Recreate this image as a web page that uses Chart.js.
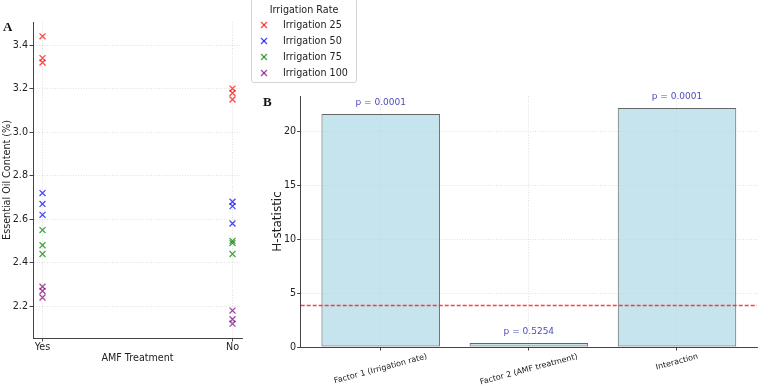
<!DOCTYPE html>
<html><head><meta charset="utf-8">
<script src="https://cdn.jsdelivr.net/npm/chart.js@4/dist/chart.umd.min.js"></script>
<style>
html,body{margin:0;padding:0;background:#fff;width:758px;height:385px;overflow:hidden;font-family:"DejaVu Sans",sans-serif;}
canvas{position:absolute;top:0;}
#cA{left:0;}
#cB{left:255px;}
.panel{position:absolute;font-family:"Liberation Serif",serif;font-weight:bold;font-size:13px;color:#111;line-height:13px;}
#legendBox{position:absolute;left:251px;top:-2px;width:106px;height:85px;border:1px solid #d4d4d4;border-radius:3px;background:rgba(255,255,255,0.8);box-sizing:border-box;}
.lg{position:absolute;font-size:9.6px;line-height:12px;color:#222;white-space:nowrap;}
</style>
</head><body>
<canvas id="cA" width="250" height="385"></canvas>
<canvas id="cB" width="503" height="385"></canvas>
<div class="panel" style="left:3px;top:20px;">A</div>
<div class="panel" style="left:263px;top:95px;">B</div>
<div id="legendBox"></div>
<div id="legendItems"></div>
<script>
// ---------- Panel A data ----------
const amfGroups = ['Yes', 'No'];
const seriesNames = ['Irrigation 25', 'Irrigation 50', 'Irrigation 75', 'Irrigation 100'];
const irr25Yes = [3.44, 3.34, 3.32];
const irr25No  = [3.20, 3.18, 3.15];
const irr50Yes = [2.72, 2.67, 2.62];
const irr50No  = [2.68, 2.66, 2.58];
const irr75Yes = [2.55, 2.48, 2.44];
const irr75No  = [2.50, 2.49, 2.44];
const irr100Yes = [2.29, 2.27, 2.24];
const irr100No  = [2.18, 2.14, 2.12];
const oilTicks = [2.2, 2.4, 2.6, 2.8, 3.0, 3.2, 3.4];

// ---------- Panel B data ----------
const factors = ['Factor 1 (Irrigation rate)', 'Factor 2 (AMF treatment)', 'Interaction'];
const hStat = [21.6, 0.37, 22.16];
const pValues = [0.0001, 0.5254, 0.0001];
const critValue = 3.84;
const hTicks = [0, 5, 10, 15, 20];

const FAM = '"DejaVu Sans", sans-serif';
const seriesColors = ['rgba(255,0,0,0.72)', 'rgba(0,0,255,0.72)', 'rgba(0,128,0,0.72)', 'rgba(128,0,128,0.72)'];
const yesSets = [irr25Yes, irr50Yes, irr75Yes, irr100Yes];
const noSets = [irr25No, irr50No, irr75No, irr100No];

function axisStyle() {
  return {
    grid: {offset: false, color: 'rgba(0,0,0,0.16)', lineWidth: 0.8, tickColor: '#444', tickLength: 3.5, tickWidth: 1, tickBorderDash: []},
    border: {display: true, color: '#444', width: 1, dash: [1, 1.6]}
  };
}

const scatterData = {
  datasets: seriesNames.map((name, k) => ({
    label: name,
    data: yesSets[k].map(v => ({x: 0, y: v})).concat(noSets[k].map(v => ({x: 1, y: v}))),
    borderColor: seriesColors[k],
    backgroundColor: seriesColors[k],
    pointStyle: 'crossRot',
    pointRadius: 4.2,
    pointBorderWidth: 1.3,
    showLine: false
  }))
};

const chartA = new Chart(document.getElementById('cA'), {
  type: 'scatter',
  data: scatterData,
  options: {
    responsive: false, animation: false, devicePixelRatio: 1,
    layout: {padding: {left: 0, right: 8, top: 22, bottom: 0}},
    plugins: {legend: {display: false}, tooltip: {enabled: false}},
    scales: {
      x: Object.assign({
        type: 'linear', min: -0.05, max: 1.05,
        afterBuildTicks: s => { s.ticks = amfGroups.map((g, i) => ({value: i})); },
        afterFit: s => { s.height = 47; s.paddingLeft = 0; s.paddingRight = 0; },
        ticks: {callback: v => amfGroups[v], font: {family: FAM, size: 9.6}, color: '#222', padding: 0.5, autoSkip: false, maxRotation: 0},
        title: {display: true, text: 'AMF Treatment', font: {family: FAM, size: 9.6}, color: '#222', padding: {top: 0, bottom: 21}}
      }, axisStyle()),
      y: Object.assign({
        type: 'linear', min: 2.054, max: 3.506,
        afterBuildTicks: s => { s.ticks = oilTicks.map(v => ({value: v})); },
        afterFit: s => { s.width = 33; s.paddingTop = 0; s.paddingBottom = 0; },
        ticks: {callback: v => v.toFixed(1), font: {family: FAM, size: 9.6}, color: '#222', padding: 1.5},
        title: {display: true, text: 'Essential Oil Content (%)', font: {family: FAM, size: 9.6}, color: '#222', padding: {top: 2, bottom: 0}}
      }, axisStyle())
    }
  }
});

// HTML legend built from chart A datasets
(function buildLegend() {
  const host = document.getElementById('legendItems');
  const t = document.createElement('div');
  t.className = 'lg';
  t.textContent = 'Irrigation Rate';
  t.style.left = '251px'; t.style.width = '106px'; t.style.textAlign = 'center'; t.style.top = '4px';
  host.appendChild(t);
  const rowsY = [25, 41, 57, 73];
  chartA.data.datasets.forEach((ds, i) => {
    const svgNS = 'http://www.w3.org/2000/svg';
    const svg = document.createElementNS(svgNS, 'svg');
    svg.setAttribute('width', '8'); svg.setAttribute('height', '8');
    svg.style.position = 'absolute';
    svg.style.left = (264 - 4) + 'px';
    svg.style.top = (rowsY[i] - 4) + 'px';
    [[1, 1, 7, 7], [1, 7, 7, 1]].forEach(c => {
      const l = document.createElementNS(svgNS, 'line');
      l.setAttribute('x1', c[0]); l.setAttribute('y1', c[1]); l.setAttribute('x2', c[2]); l.setAttribute('y2', c[3]);
      l.setAttribute('stroke', ds.borderColor); l.setAttribute('stroke-width', '1.3');
      svg.appendChild(l);
    });
    host.appendChild(svg);
    const d = document.createElement('div');
    d.className = 'lg';
    d.textContent = ds.label;
    d.style.left = '283px';
    d.style.top = (rowsY[i] - 6) + 'px';
    host.appendChild(d);
  });
})();

// ---------- Panel B ----------
const X_MIN = -0.54, X_MAX = 2.54;

const pLabelPlugin = {
  id: 'pLabels',
  afterDatasetsDraw(chart) {
    const ctx = chart.ctx;
    const meta = chart.getDatasetMeta(0);
    ctx.save();
    ctx.font = '9px ' + FAM;
    ctx.fillStyle = '#4d4dbf';
    ctx.textAlign = 'center';
    ctx.textBaseline = 'middle';
    meta.data.forEach((bar, i) => {
      ctx.fillText('p = ' + pValues[i].toFixed(4), bar.x, bar.y - 11);
    });
    ctx.restore();
  }
};

const centerRotatedLabels = {
  id: 'centerRotated',
  beforeDraw(chart) {
    const sc = chart.scales.x;
    const items = sc.getLabelItems();
    const ctx = chart.ctx;
    ctx.save();
    ctx.font = '8px ' + FAM;
    const rot = 15 * Math.PI / 180;
    items.forEach((it, i) => {
      const w = ctx.measureText(it.label).width;
      const h = 9.2;
      const bboxH = w * Math.sin(rot) + h * Math.cos(rot);
      it.options.textAlign = 'center';
      it.options.textBaseline = 'middle';
      it.textOffset = 0;
      it.options.translation = [sc.getPixelForTick(i), 352 + bboxH / 2];
    });
    ctx.restore();
  }
};

const chartB = new Chart(document.getElementById('cB'), {
  type: 'bar',
  data: {
    datasets: [
      {
        type: 'bar', label: 'H-statistic',
        data: hStat.map((v, i) => ({x: i, y: v})),
        backgroundColor: 'rgba(173,216,230,0.7)',
        borderColor: 'rgba(0,0,0,0.6)',
        borderWidth: 1,
        borderSkipped: false,
        barPercentage: 0.8, categoryPercentage: 1,
        order: 1
      },
      {
        type: 'line', label: 'critical',
        data: [{x: X_MIN, y: critValue}, {x: X_MAX, y: critValue}],
        borderColor: 'rgba(255,30,30,0.85)', borderDash: [4, 2], borderWidth: 1.5,
        pointRadius: 0, fill: false, order: 0
      }
    ]
  },
  options: {
    responsive: false, animation: false, devicePixelRatio: 1,
    layout: {padding: {left: 0, right: 1, top: 96, bottom: 0}},
    plugins: {legend: {display: false}, tooltip: {enabled: false}},
    scales: {
      x: Object.assign({
        type: 'linear', min: X_MIN, max: X_MAX, offset: false,
        afterBuildTicks: s => { s.ticks = factors.map((f, i) => ({value: i})); },
        afterFit: s => { s.height = 38; s.paddingLeft = 0; s.paddingRight = 0; },
        ticks: {callback: v => factors[v], font: {family: FAM, size: 8}, color: '#222', autoSkip: false, minRotation: 15, maxRotation: 15, padding: 1}
      }, axisStyle()),
      y: Object.assign({
        type: 'linear', min: 0, max: 23.27,
        afterBuildTicks: s => { s.ticks = hTicks.map(v => ({value: v})); },
        afterFit: s => { s.width = 45.7; s.paddingTop = 0; s.paddingBottom = 0; },
        ticks: {callback: v => String(v), font: {family: FAM, size: 9.6}, color: '#222', padding: 1},
        title: {display: true, text: 'H-statistic', font: {family: FAM, size: 12}, color: '#222', padding: {top: 16, bottom: 0}}
      }, axisStyle())
    }
  },
  plugins: [pLabelPlugin, centerRotatedLabels]
});
</script>
</body></html>
